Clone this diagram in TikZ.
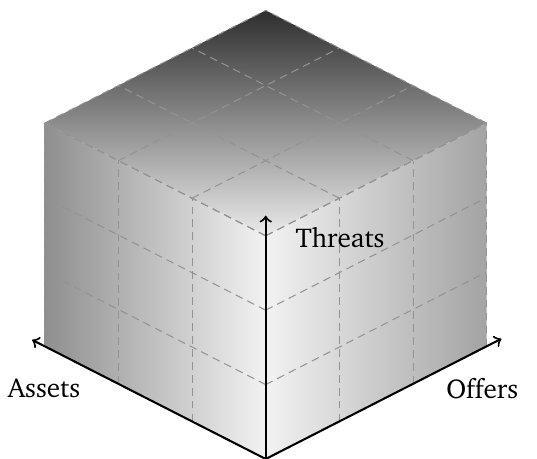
\documentclass[tikz,border=0pt]{standalone}
\usepackage[T1]{fontenc}
\usepackage{charter}
\usepackage{tikz}

\begin{document}
\begin{tikzpicture}[x={(-1cm,0.51cm)},y={(1cm,0.51cm)},z={(0cm,1.01cm)}]
			\tikzstyle{gridline} = [draw=gray!85, line width=0.4pt, dash pattern=on 3pt off 2pt]
			\tikzstyle{axislabel} = [font=\fontsize{10.5}{12}\selectfont]
			\tikzset{axis/.style = {thick, ->}}
			
			\useasboundingbox (-3.607cm,0cm) rectangle (3.683cm,6.231cm);
			
			% faces of the cube
			\shade[top color=black!82, bottom color=black!8] (0,0,3) -- (3,0,3) -- (3,3,3) -- (0,3,3) -- cycle;
			\shade[left color=black!44, right color=black!5] (0,0,0) -- (3,0,0) -- (3,0,3) -- (0,0,3) -- cycle;
			\shade[left color=black!5, right color=black!36] (0,0,0) -- (0,3,0) -- (0,3,3) -- (0,0,3) -- cycle;
			
			% grid on each face
			\foreach \i in {0,1,2,3} {
				\draw[gridline] (\i,0,0) -- (\i,0,3);
				\draw[gridline] (0,0,\i) -- (3,0,\i);
				\draw[gridline] (0,\i,0) -- (0,\i,3);
				\draw[gridline] (0,0,\i) -- (0,3,\i);
				\draw[gridline] (\i,0,3) -- (\i,3,3);
				\draw[gridline] (0,\i,3) -- (3,\i,3);
			}
			
			\coordinate (origin) at (0,0,0);
			\coordinate (assetsend) at (3.17,0,0);
			\coordinate (offersend) at (0,3.2,0);
			\coordinate (threatsend) at (0,0,3.27);
			\draw[axis](origin) -- (assetsend);
			\draw[axis](origin) -- (offersend);
			\draw[axis](origin) -- (threatsend);
			
			\node[axislabel](assets) at (-3.01cm,0.96cm) {Assets};
			\node[axislabel](offers) at (2.94cm,0.96cm) {Offers};
			\node[axislabel](threats) at (1.01cm,3.0cm) {Threats};
			
			\end{tikzpicture}
\end{document}
